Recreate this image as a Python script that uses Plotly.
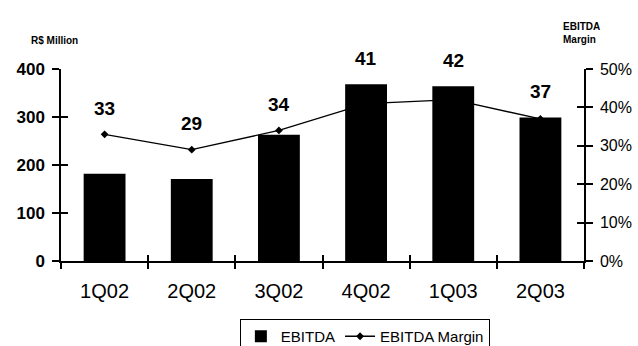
import plotly.graph_objects as go

# Quarterly EBITDA (R$ million) and EBITDA margin (%)
quarters = ["1Q02", "2Q02", "3Q02", "4Q02", "1Q03", "2Q03"]
ebitda = [182, 171, 263, 368, 364, 299]
margin_pct = [33, 29, 34, 41, 42, 37]

left_ticks = [0, 100, 200, 300, 400]
right_ticks = [0, 0.1, 0.2, 0.3, 0.4, 0.5]

FONT = "Liberation Sans, Arial, sans-serif"
BAR_MAX = 400
PCT_MAX = 50

fig = go.Figure()

# Bars live on the overlaying axis so they are drawn above the margin line
fig.add_trace(go.Bar(
    x=quarters, y=ebitda, name="EBITDA", yaxis="y2",
    width=0.48, marker=dict(color="black", line=dict(width=0)),
))
fig.add_trace(go.Scatter(
    x=quarters, y=[m / 100 for m in margin_pct], name="EBITDA Margin",
    yaxis="y", mode="lines+markers",
    line=dict(color="black", width=1.3),
    marker=dict(symbol="diamond", size=6, color="black"),
))

# Helper traces that give the inside half of the crossing tick marks
fig.add_trace(go.Scatter(x=quarters, y=ebitda, yaxis="y3", mode="none",
                         showlegend=False, hoverinfo="skip"))
fig.add_trace(go.Scatter(x=quarters, y=ebitda, xaxis="x2", yaxis="y4", mode="none",
                         showlegend=False, hoverinfo="skip"))

# Margin value labels above the taller of bar / marker
scale = BAR_MAX / PCT_MAX
for q, v, m in zip(quarters, ebitda, margin_pct):
    fig.add_annotation(
        x=q, y=max(v, m * scale), xref="x", yref="y2",
        text=str(m), showarrow=False, yshift=26, yanchor="middle",
        font=dict(family=FONT, size=19, color="black", weight="bold"),
    )

fig.add_annotation(
    text="R$ Million", xref="paper", yref="paper", x=-32 / 523, y=1.151,
    xanchor="left", yanchor="middle", showarrow=False,
    font=dict(family=FONT, size=10, color="black", weight="bold"),
)
fig.add_annotation(
    text="EBITDA<br>Margin", xref="paper", yref="paper", x=0.956, y=1.19,
    xanchor="left", yanchor="middle", align="left", showarrow=False,
    font=dict(family=FONT, size=10, color="black", weight="bold"),
)

axis_common = dict(showgrid=False, zeroline=False, tickcolor="black",
                   tickwidth=1.5, automargin=False)

fig.update_layout(
    width=638, height=346, autosize=False,
    margin=dict(l=61, r=54, t=69, b=85, autoexpand=False),
    plot_bgcolor="white", paper_bgcolor="white",
    font=dict(family=FONT, color="black"),
    bargap=0.52,
    xaxis=dict(
        type="category", range=[-0.5, 5.5], tickson="boundaries",
        ticks="outside", ticklen=6, showline=True, linecolor="black", linewidth=1.5,
        tickfont=dict(family=FONT, size=20, color="black"), ticklabelstandoff=11,
        **axis_common,
    ),
    xaxis2=dict(
        type="category", range=[-0.5, 5.5], tickson="boundaries", overlaying="x",
        anchor="y", side="bottom", ticks="inside", ticklen=6,
        showticklabels=False, showline=False, **axis_common,
    ),
    yaxis=dict(
        side="right", range=[0, 0.5], tickvals=right_ticks, tickformat=".0%",
        ticks="outside", ticklen=7, showline=True, linecolor="black", linewidth=1.5,
        tickfont=dict(family=FONT, size=16, color="black"), ticklabelstandoff=4,
        anchor="x", **axis_common,
    ),
    yaxis2=dict(
        side="left", overlaying="y", range=[0, BAR_MAX], tickvals=left_ticks,
        ticks="outside", ticklen=7, showline=True, linecolor="black", linewidth=1.5,
        tickfont=dict(family=FONT, size=17, color="black", weight="bold"),
        ticklabelstandoff=4, anchor="x", **axis_common,
    ),
    yaxis3=dict(
        side="left", overlaying="y", range=[0, BAR_MAX], tickvals=left_ticks,
        ticks="inside", ticklen=7, showticklabels=False, showline=False,
        anchor="x", **axis_common,
    ),
    yaxis4=dict(
        side="right", overlaying="y", range=[0, 0.5], tickvals=right_ticks,
        ticks="inside", ticklen=7, showticklabels=False, showline=False,
        anchor="x2", **axis_common,
    ),
    showlegend=True,
    legend=dict(
        orientation="h", x=0.581, y=-0.302, xanchor="center", yanchor="top",
        bordercolor="black", borderwidth=1, bgcolor="white",
        font=dict(family=FONT, size=15, color="black"),
        itemwidth=30, tracegroupgap=0,
    ),
)

fig.write_html("out.html")
